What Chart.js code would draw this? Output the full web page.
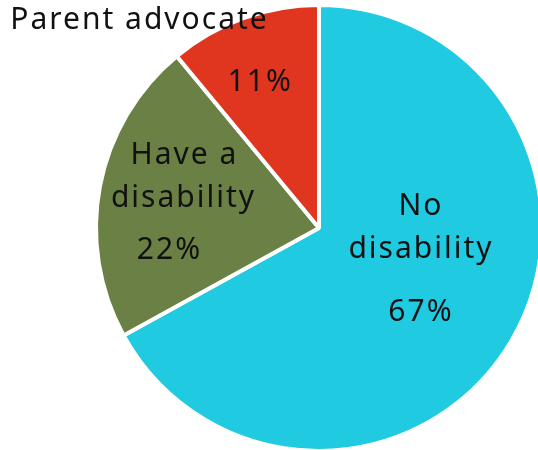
<!DOCTYPE html>
<html>
<head>
<meta charset="utf-8">
<script src="https://cdn.jsdelivr.net/npm/chart.js@4"></script>
<style>
  html, body { margin: 0; padding: 0; background: #fff; }
  body { width: 538px; height: 450px; overflow: hidden; position: relative; }
  .wrap { position: absolute; left: 0; top: 0; width: 600px; height: 460px; }
</style>
</head>
<body>
<div class="wrap"><canvas id="pie"></canvas></div>
<script>
const categories = ['No disability', 'Have a disability', 'Parent advocate']
const shares = [67, 22, 11]
const sliceColors = ['#20CAE1', '#6A8044', '#E0361F']

// text drawn inside each slice, offsets from the arc's center point
const sliceText = [
  [['No', 6, -78], ['disability', 6, -35], ['67%', 6, 28]],
  [['Have a', -25, -52], ['disability', -26, -9], ['22%', -40, 43]],
  [['11%', -21, -41]]
]

const pieLabels = {
  id: 'pieLabels',
  afterDatasetsDraw(chart) {
    const ctx = chart.ctx
    const meta = chart.getDatasetMeta(0)
    ctx.save()
    ctx.fillStyle = '#111'
    ctx.font = '30px "Noto Sans"'
    ctx.letterSpacing = '2px'
    ctx.textAlign = 'center'
    ctx.textBaseline = 'middle'
    meta.data.forEach((arc, i) => {
      const p = arc.tooltipPosition()
      sliceText[i].forEach(([txt, dx, dy]) => {
        const v = txt.endsWith('%') ? shares[i] + '%' : txt
        ctx.fillText(v, p.x + dx, p.y + dy)
      })
    })
    // category name for the small slice sits above the pie
    const red = meta.data[2].tooltipPosition()
    ctx.textAlign = 'left'
    ctx.fillText(categories[2], red.x - 271, red.y - 103)
    ctx.restore()
  }
}

new Chart(document.getElementById('pie'), {
  type: 'pie',
  data: {
    labels: categories,
    datasets: [{
      data: shares,
      backgroundColor: sliceColors,
      borderColor: '#fff',
      borderWidth: 4
    }]
  },
  options: {
    responsive: true,
    maintainAspectRatio: false,
    animation: false,
    layout: { padding: { left: 94, top: 3, right: 56, bottom: 7 } },
    plugins: {
      legend: { display: false },
      tooltip: { enabled: false }
    }
  },
  plugins: [pieLabels]
})
</script>
</body>
</html>
